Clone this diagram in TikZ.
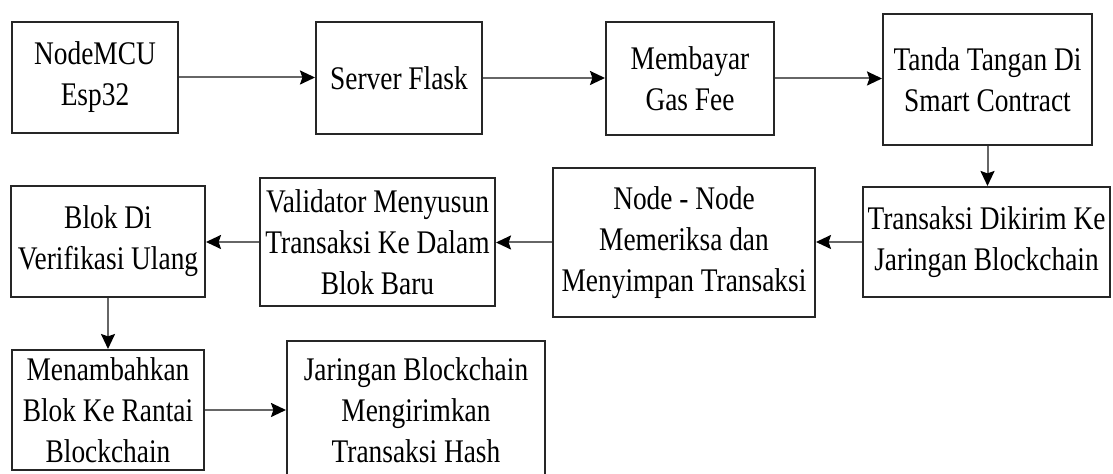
\documentclass[tikz,border=0pt]{standalone}
\usepackage{fontspec}
\setmainfont{Liberation Serif}[FakeStretch=0.83]
\usetikzlibrary{arrows.meta}
\begin{document}
\begin{tikzpicture}[x=0.5pt,y=-0.5pt,
  box/.style={draw=black!85, line width=1pt, fill=white, inner sep=0pt, align=center,
    font=\fontsize{16.5pt}{20.5pt}\selectfont},
  arr/.style={draw=black!60, line width=1pt, -{Stealth[length=7.5pt,width=7pt,inset=1.2pt,fill=black,color=black]}}]
\clip (0,0) rectangle (1113,474);
\useasboundingbox (0,0) rectangle (1113,474);
\fill[white] (0,0) rectangle (1113,474);
\node[box, minimum width=83pt, minimum height=55.5pt] (A) at (95,77.5) {NodeMCU\\Esp32};
\node[box, minimum width=83pt, minimum height=56pt] (B) at (399,78) {Server Flask};
\node[box, minimum width=84pt, minimum height=56.5pt] (C) at (690,78.5) {Membayar\\Gas Fee};
\node[box, minimum width=104.5pt, minimum height=65.5pt] (D) at (987.5,79.5) {Tanda Tangan Di\\Smart Contract};
\node[box, minimum width=123.5pt, minimum height=55pt] (E) at (986.5,242) {Transaksi Dikirim Ke\\Jaringan Blockchain};
\node[box, minimum width=131pt, minimum height=74.5pt] (F) at (684,242.5) {Node - Node\\Memeriksa dan\\Menyimpan Transaksi};
\node[box, minimum width=117.5pt, minimum height=64pt] (G) at (377.5,242) {Validator Menyusun\\Transaksi Ke Dalam\\Blok Baru};
\node[box, minimum width=97pt, minimum height=55.5pt] (H) at (108,241.5) {Blok Di\\Verifikasi Ulang};
\node[box, minimum width=96pt, minimum height=60pt] (I) at (108,410) {Menambahkan\\Blok Ke Rantai\\Blockchain};
\node[box, minimum width=129pt, minimum height=69pt] (J) at (416,410) {Jaringan Blockchain\\Mengirimkan\\Transaksi Hash};
\draw[arr] (A.east) -- (A.east -| B.west);
\draw[arr] (B.east) -- (B.east -| C.west);
\draw[arr] (C.east) -- (C.east -| D.west);
\draw[arr] (D.south) -- (D.south |- E.north);
\draw[arr] (E.west) -- (E.west -| F.east);
\draw[arr] (F.west) -- (F.west -| G.east);
\draw[arr] (G.west) -- (G.west -| H.east);
\draw[arr] (H.south) -- (H.south |- I.north);
\draw[arr] (I.east) -- (I.east -| J.west);
\end{tikzpicture}
\end{document}
